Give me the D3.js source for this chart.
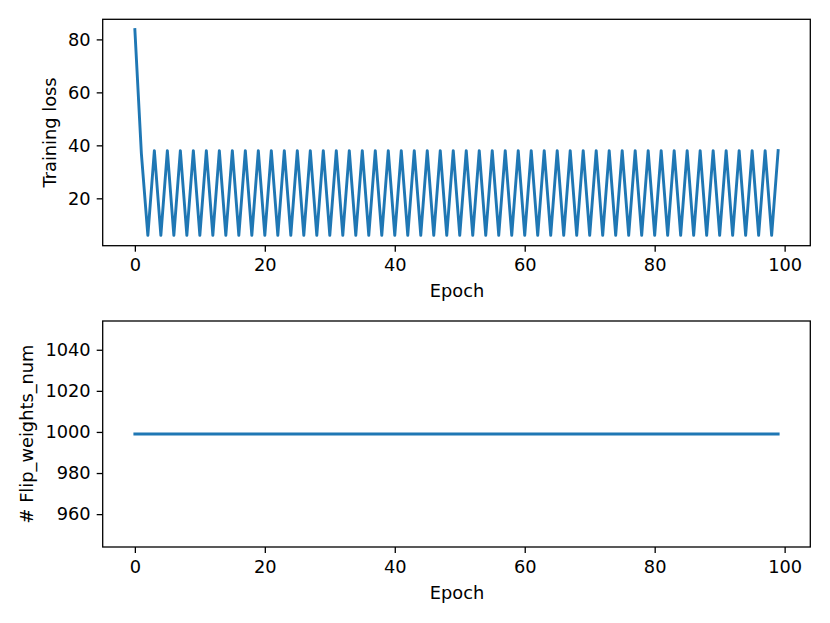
<!DOCTYPE html>
<html>
<head>
<meta charset="utf-8">
<script src="https://cdn.jsdelivr.net/npm/d3@7"></script>
<style>
  body { margin: 0; background: #fff; }
  svg { display: block; }
  text { font-family: "DejaVu Sans", sans-serif; }
</style>
</head>
<body>
<svg id="chart" width="830" height="623"></svg>
<script>
// values
const epochs = d3.range(100);
const trainingLoss = [
  83.7, 37.0, 6.0, 38.0, 6.0, 38.0, 6.0, 38.0, 6.0, 38.0,
  6.0, 38.0, 6.0, 38.0, 6.0, 38.0, 6.0, 38.0, 6.0, 38.0,
  6.0, 38.0, 6.0, 38.0, 6.0, 38.0, 6.0, 38.0, 6.0, 38.0,
  6.0, 38.0, 6.0, 38.0, 6.0, 38.0, 6.0, 38.0, 6.0, 38.0,
  6.0, 38.0, 6.0, 38.0, 6.0, 38.0, 6.0, 38.0, 6.0, 38.0,
  6.0, 38.0, 6.0, 38.0, 6.0, 38.0, 6.0, 38.0, 6.0, 38.0,
  6.0, 38.0, 6.0, 38.0, 6.0, 38.0, 6.0, 38.0, 6.0, 38.0,
  6.0, 38.0, 6.0, 38.0, 6.0, 38.0, 6.0, 38.0, 6.0, 38.0,
  6.0, 38.0, 6.0, 38.0, 6.0, 38.0, 6.0, 38.0, 6.0, 38.0,
  6.0, 38.0, 6.0, 38.0, 6.0, 38.0, 6.0, 38.0, 6.0, 38.0
];
const flipWeights = [
  999, 999, 999, 999, 999, 999, 999, 999, 999, 999,
  999, 999, 999, 999, 999, 999, 999, 999, 999, 999,
  999, 999, 999, 999, 999, 999, 999, 999, 999, 999,
  999, 999, 999, 999, 999, 999, 999, 999, 999, 999,
  999, 999, 999, 999, 999, 999, 999, 999, 999, 999,
  999, 999, 999, 999, 999, 999, 999, 999, 999, 999,
  999, 999, 999, 999, 999, 999, 999, 999, 999, 999,
  999, 999, 999, 999, 999, 999, 999, 999, 999, 999,
  999, 999, 999, 999, 999, 999, 999, 999, 999, 999,
  999, 999, 999, 999, 999, 999, 999, 999, 999, 999
];
const xTicks = [0, 20, 40, 60, 80, 100];
const lossTicks = [20, 40, 60, 80];
const flipTicks = [960, 980, 1000, 1020, 1040];

const svg = d3.select("#chart");
const fontSize = 17.8;
const lineColor = "#1f77b4";

// matplotlib style 5% margins
function padded(ext) {
  const d = (ext[1] - ext[0]) * 0.05;
  return [ext[0] - d, ext[1] + d];
}

function drawPanel(opts) {
  const { top, bottom, values, yDomain, yTicks, yLabel, yLabelX } = opts;
  const left = 102.7, right = 810.3;

  const x = d3.scaleLinear().domain(padded(d3.extent(epochs))).range([left, right]);
  const y = d3.scaleLinear().domain(yDomain).range([bottom, top]);

  const g = svg.append("g");

  // line
  g.append("path")
    .datum(epochs.map((e, i) => [e, values[i]]))
    .attr("fill", "none")
    .attr("stroke", lineColor)
    .attr("stroke-width", 2.9)
    .attr("stroke-linejoin", "round")
    .attr("stroke-linecap", "square")
    .attr("d", d3.line().x(d => x(d[0])).y(d => y(d[1])));

  // axes
  const xAxis = g.append("g")
    .attr("transform", `translate(0,${bottom})`)
    .call(d3.axisBottom(x).tickValues(xTicks).tickFormat(d3.format("d"))
      .tickSize(6).tickPadding(7));
  const yAxis = g.append("g")
    .attr("transform", `translate(${left},0)`)
    .call(d3.axisLeft(y).tickValues(yTicks).tickFormat(d3.format("d"))
      .tickSize(6).tickPadding(6));

  [xAxis, yAxis].forEach(a => {
    a.select(".domain").remove();
    a.selectAll(".tick line").attr("stroke", "#000").attr("stroke-width", 1.3);
    a.selectAll(".tick text")
      .attr("fill", "#000")
      .style("font-size", fontSize + "px")
      .style("font-family", "'DejaVu Sans', sans-serif");
  });

  // frame
  g.append("rect")
    .attr("x", left).attr("y", top)
    .attr("width", right - left).attr("height", bottom - top)
    .attr("fill", "none")
    .attr("stroke", "#000")
    .attr("stroke-width", 1.3);

  // labels
  g.append("text")
    .attr("x", (left + right) / 2 + 0.5)
    .attr("y", bottom + 51.5)
    .attr("text-anchor", "middle")
    .style("font-size", fontSize + "px")
    .text("Epoch");

  g.append("text")
    .attr("transform", `translate(${yLabelX},${(top + bottom) / 2}) rotate(-90)`)
    .attr("text-anchor", "middle")
    .style("font-size", fontSize + "px")
    .text(yLabel);
}

drawPanel({
  top: 19.3, bottom: 245.7,
  values: trainingLoss,
  yDomain: padded(d3.extent(trainingLoss)),
  yTicks: lossTicks,
  yLabel: "Training loss",
  yLabelX: 56
});

drawPanel({
  top: 321, bottom: 547,
  values: flipWeights,
  yDomain: [944, 1054],
  yTicks: flipTicks,
  yLabel: "# Flip_weights_num",
  yLabelX: 32.5
});
</script>
</body>
</html>
